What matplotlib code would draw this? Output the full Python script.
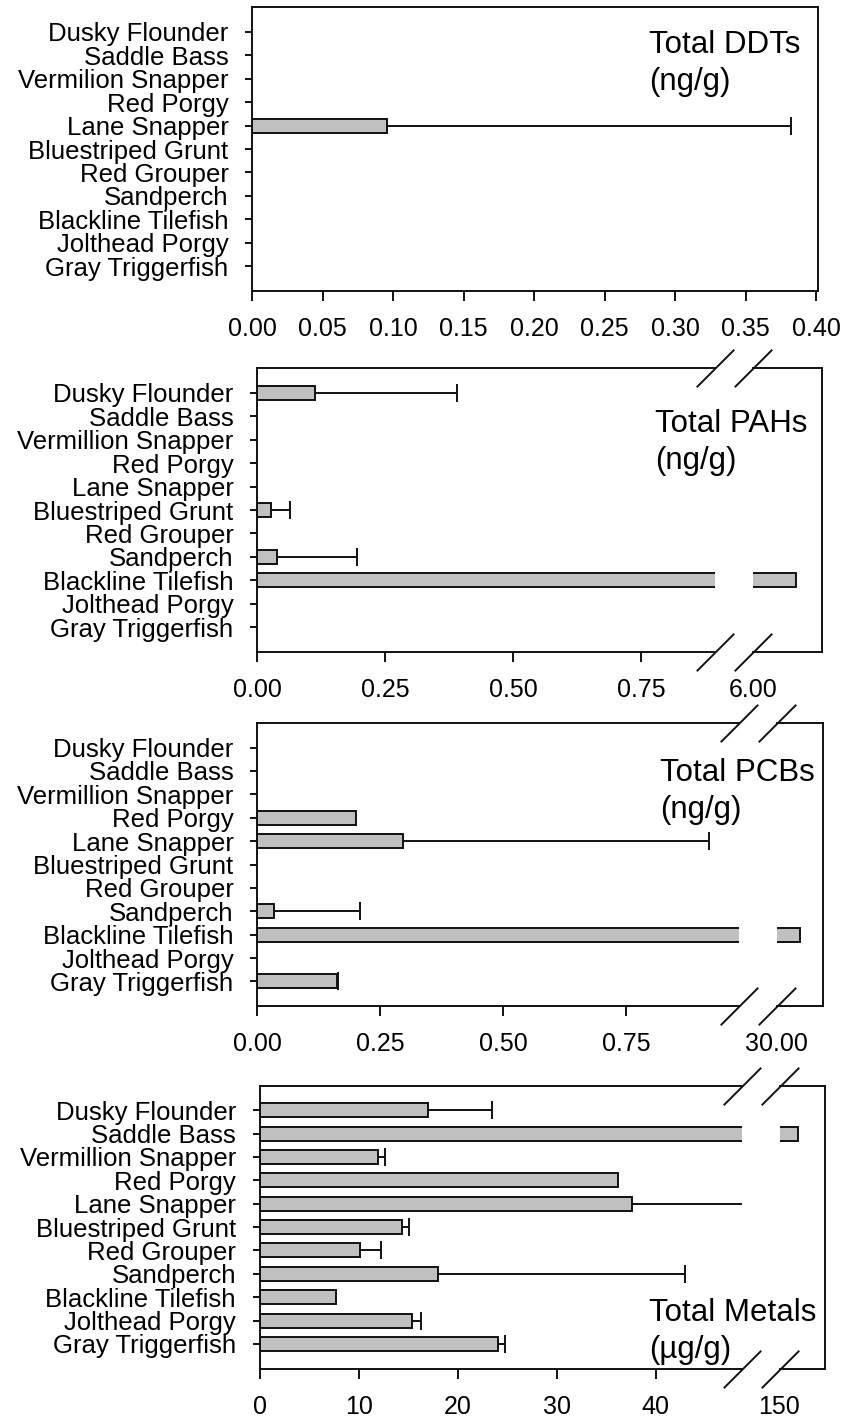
import numpy as np
import matplotlib.pyplot as plt

plt.rcParams['font.family'] = ['Liberation Sans', 'DejaVu Sans']

# --- data -----------------------------------------------------------------
species = ["Dusky Flounder", "Saddle Bass", "Vermillion Snapper", "Red Porgy",
           "Lane Snapper", "Bluestriped Grunt", "Red Grouper", "Sandperch",
           "Blackline Tilefish", "Jolthead Porgy", "Gray Triggerfish"]
# the DDT panel spells it "Vermilion"
species_ddt = [s.replace("Vermillion", "Vermilion") for s in species]

# means, and the + side of the error bar (0 = none shown)
ddt_mean = [0, 0, 0, 0, 0.096, 0, 0, 0, 0, 0, 0]
ddt_err = [0, 0, 0, 0, 0.286, 0, 0, 0, 0, 0, 0]

pah_mean = [0.113, 0, 0, 0, 0, 0.0265, 0, 0.039, 6.31, 0, 0]
pah_err = [0.278, 0, 0, 0, 0, 0.037, 0, 0.156, 0, 0, 0]

pcb_mean = [0, 0, 0, 0.201, 0.297, 0, 0, 0.035, 30.51, 0, 0.162]
pcb_err = [0, 0, 0, 0, 0.622, 0, 0, 0.175, 0, 0, 0.002]

metal_mean = [17.05, 154.0, 12.0, 36.2, 37.6, 14.42, 10.13, 18.06, 7.68, 15.38, 24.07]
metal_err = [6.45, 0, 0.68, 0, 24.4, 0.68, 2.14, 24.9, 0, 0.93, 0.66]

W, H = 844, 1421
BAR = '#c0c0c0'
EDGE = '#111111'
LW = 1.4

fig = plt.figure(figsize=(W / 100, H / 100), dpi=100)


def box(x0, x1, y0, y1):
    # pixel box (y from the top) -> figure fraction rect
    return [x0 / W, 1 - y1 / H, (x1 - x0) / W, (y1 - y0) / H]


def style(ax):
    for s in ax.spines.values():
        s.set_linewidth(LW)
        s.set_color(EDGE)
    ax.tick_params(axis='x', direction='out', length=7, width=LW, pad=12,
                   labelsize=18, color=EDGE, labelcolor='black')
    ax.tick_params(axis='y', direction='out', length=5, width=LW, pad=12,
                   labelsize=18.5, color=EDGE, labelcolor='black')
    n = len(species)
    ax.set_ylim(n - 1 + 1.05, -1.05)


def draw_bars(ax, means, errs):
    means = np.asarray(means, float)
    errs = np.asarray(errs, float)
    pos = np.arange(len(means))
    has = means > 0
    ax.barh(pos[has], means[has], height=0.6, color=BAR, edgecolor=EDGE,
            linewidth=LW, zorder=2)
    e = errs > 0
    if e.any():
        _, caps, _ = ax.errorbar(means[e], pos[e],
                                 xerr=[np.zeros(e.sum()), errs[e]],
                                 fmt='none', ecolor=EDGE, elinewidth=LW,
                                 capsize=6.8, capthick=LW, zorder=3)
        caps[0].set_visible(False)


def title(lines, x, y):
    for i, s in enumerate(lines):
        fig.text(x / W, 1 - (y + 37 * i) / H, s, fontsize=22.5, va='baseline',
                 color='black')


def panel(labels, means, errs, y0, y1, xl, xlim_l, ticks_l, fmt,
          xr=None, xlim_r=None, ticks_r=None):
    axl = fig.add_axes(box(xl[0], xl[1], y0, y1))
    style(axl)
    draw_bars(axl, means, errs)
    axl.set_xlim(*xlim_l)
    axl.set_xticks(ticks_l)
    axl.set_xticklabels([fmt % t for t in ticks_l])
    axl.set_yticks(np.arange(len(labels)))
    axl.set_yticklabels(labels)
    if xr is None:
        return axl
    axr = fig.add_axes(box(xr[0], xr[1], y0, y1))
    style(axr)
    draw_bars(axr, means, errs)
    axr.set_xlim(*xlim_r)
    axr.set_xticks(ticks_r)
    axr.set_xticklabels([fmt % t for t in ticks_r])
    axr.tick_params(axis='x', length=0, pad=19)
    axr.set_yticks([])
    axl.spines['right'].set_visible(False)
    axr.spines['left'].set_visible(False)
    kw = dict(marker=[(-1, -1), (1, 1)], markersize=27, linestyle='none',
              color=EDGE, mec=EDGE, mew=LW, clip_on=False, zorder=5)
    axl.plot([1, 1], [0, 1], transform=axl.transAxes, **kw)
    axr.plot([0, 0], [0, 1], transform=axr.transAxes, **kw)
    return axl, axr


# Total DDTs
panel(species_ddt, ddt_mean, ddt_err, 7.3, 290.7, (252, 818),
      (0, 0.4014), [0, 0.05, 0.10, 0.15, 0.20, 0.25, 0.30, 0.35, 0.40], '%.2f')
title(["Total DDTs", "(ng/g)"], 649, 53)

# Total PAHs
panel(species, pah_mean, pah_err, 368, 652, (257, 715), (0, 0.8945),
      [0, 0.25, 0.50, 0.75], '%.2f', (753, 822), (6.0, 6.5), [6.0])
title(["Total PAHs", "(ng/g)"], 655, 432)

# Total PCBs
panel(species, pcb_mean, pcb_err, 723, 1006, (257, 739), (0, 0.9797),
      [0, 0.25, 0.50, 0.75], '%.2f', (776.5, 822.7), (30.0, 31.0), [30.0])
title(["Total PCBs", "(ng/g)"], 660, 781)

# Total Metals
panel(species, metal_mean, metal_err, 1085.7, 1368.5, (259.5, 742), (0, 48.7),
      [0, 10, 20, 30, 40], '%d', (779.5, 825.5), (150, 160), [150])
title(["Total Metals", "(\u00b5g/g)"], 649, 1321)

fig.savefig('out.png', dpi=100)
